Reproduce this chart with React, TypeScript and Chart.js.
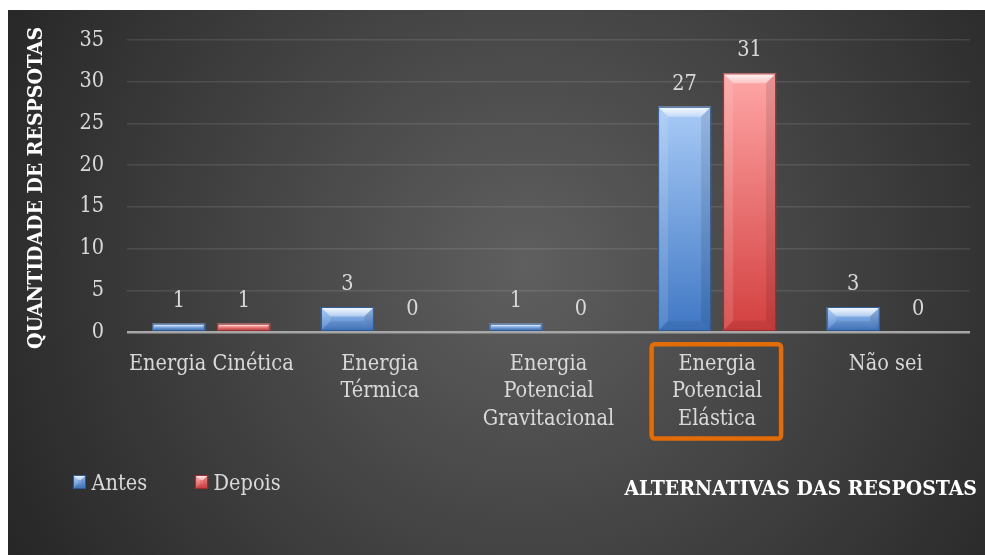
import React, { useEffect, useRef } from 'react';
import { Chart, registerables } from 'chart.js';

Chart.register(...registerables);

// ---- data ----
const categories: string[][] = [
  ['Energia Cinética'],
  ['Energia', 'Térmica'],
  ['Energia', 'Potencial', 'Gravitacional'],
  ['Energia', 'Potencial', 'Elástica'],
  ['Não sei'],
];
const antesValues = [1, 3, 1, 27, 3];
const depoisValues = [1, 0, 0, 31, 0];
const seriesNames = ['Antes', 'Depois'];
const yAxisMax = 35;
const yAxisStep = 5;
const yAxisTitle = 'QUANTIDADE DE RESPSOTAS';
const xAxisTitle = 'ALTERNATIVAS DAS RESPOSTAS';
const highlightedCategory = 3;

// ---- style ----
const FONT = "'DejaVu Serif Condensed', 'DejaVu Serif', serif";
const TEXT_SIZE = 21.5;
const TITLE_SIZE = 21;
const TEXT_COLOR = '#d9d9d9';
const W = 977;
const H = 545;

type Palette = { top: string; bottom: string; border: string };
const palettes: Palette[] = [
  { top: '#a9cbf7', bottom: '#3f77c4', border: '#2c5a97' },
  { top: '#ffa6a6', bottom: '#d33f3f', border: '#9c2d2d' },
];

function barFill(c: any, p: Palette) {
  const chart = c.chart;
  if (!chart.chartArea || c.type !== 'data') return p.bottom;
  const ys = chart.scales.y;
  const top = ys.getPixelForValue(c.raw);
  const base = ys.getPixelForValue(0);
  if (base - top < 1) return p.bottom;
  const g = chart.ctx.createLinearGradient(0, top, 0, base);
  g.addColorStop(0, p.top);
  g.addColorStop(1, p.bottom);
  return g;
}

function poly(ctx: CanvasRenderingContext2D, pts: number[][], fill: any) {
  ctx.beginPath();
  ctx.moveTo(pts[0][0], pts[0][1]);
  for (let i = 1; i < pts.length; i++) ctx.lineTo(pts[i][0], pts[i][1]);
  ctx.closePath();
  ctx.fillStyle = fill;
  ctx.fill();
}

function bevelBox(ctx: CanvasRenderingContext2D, x0: number, y0: number, x1: number, y1: number, bMax: number, border: string) {
  const h = y1 - y0;
  const w = x1 - x0;
  const b = Math.min(bMax, h / 2.5, w / 2);
  const g = ctx.createLinearGradient(0, y0, 0, y0 + b);
  g.addColorStop(0, 'rgba(255,255,255,0.9)');
  g.addColorStop(1, 'rgba(255,255,255,0.35)');
  poly(ctx, [[x0, y0], [x1, y0], [x1 - b, y0 + b], [x0 + b, y0 + b]], g);
  poly(ctx, [[x0, y0], [x0 + b, y0 + b], [x0 + b, y1 - b], [x0, y1]], 'rgba(255,255,255,0.12)');
  poly(ctx, [[x1, y0], [x1 - b, y0 + b], [x1 - b, y1 - b], [x1, y1]], 'rgba(0,0,0,0.10)');
  poly(ctx, [[x0, y1], [x0 + b, y1 - b], [x1 - b, y1 - b], [x1, y1]], 'rgba(0,0,0,0.07)');
  ctx.strokeStyle = border;
  ctx.lineWidth = 1;
  ctx.strokeRect(x0 + 0.5, y0 + 0.5, w - 1, h - 1);
}

const decorPlugin = {
  id: 'decor',
  afterDatasetsDraw(chart: any) {
    const ctx: CanvasRenderingContext2D = chart.ctx;
    ctx.save();
    chart.data.datasets.forEach((ds: any, di: number) => {
      const meta = chart.getDatasetMeta(di);
      meta.data.forEach((el: any, i: number) => {
        const { x, y, base, width } = el.getProps(['x', 'y', 'base', 'width'], true);
        const h = base - y;
        if (h > 0.5) {
          bevelBox(ctx, x - width / 2, y, x + width / 2, base, 10, palettes[di].border);
        }
        ctx.fillStyle = TEXT_COLOR;
        ctx.font = `${TEXT_SIZE}px ${FONT}`;
        ctx.textAlign = 'center';
        ctx.textBaseline = 'alphabetic';
        ctx.fillText(String(ds.data[i]), x, y - 17);
      });
    });
    ctx.restore();
  },
  afterDraw(chart: any) {
    const ctx: CanvasRenderingContext2D = chart.ctx;
    const area = chart.chartArea;
    ctx.save();
    // y axis title
    ctx.fillStyle = '#ffffff';
    ctx.font = `bold ${TITLE_SIZE}px ${FONT}`;
    ctx.textAlign = 'center';
    ctx.textBaseline = 'alphabetic';
    ctx.translate(34, (area.top + area.bottom) / 2 + 2);
    ctx.rotate(-Math.PI / 2);
    ctx.fillText(yAxisTitle, 0, 0);
    ctx.restore();

    ctx.save();
    // x axis title
    ctx.fillStyle = '#ffffff';
    ctx.font = `bold ${TITLE_SIZE}px ${FONT}`;
    ctx.textAlign = 'right';
    ctx.textBaseline = 'alphabetic';
    ctx.fillText(xAxisTitle, W - 8, 485);

    // legend
    ctx.font = `${TEXT_SIZE}px ${FONT}`;
    ctx.textAlign = 'left';
    let lx = 65;
    chart.data.datasets.forEach((ds: any, di: number) => {
      const p = palettes[di];
      const g = ctx.createLinearGradient(0, 465, 0, 479);
      g.addColorStop(0, p.top);
      g.addColorStop(1, p.bottom);
      ctx.fillStyle = g;
      ctx.fillRect(lx, 465, 13, 14);
      bevelBox(ctx, lx, 465, lx + 13, 479, 5, p.border);
      ctx.fillStyle = TEXT_COLOR;
      ctx.fillText(ds.label, lx + 18.5, 480);
      lx += 18.5 + ctx.measureText(ds.label).width + 48;
    });

    // highlight box around a category label
    const xs = chart.scales.x;
    const cx = xs.getPixelForTick(highlightedCategory);
    ctx.strokeStyle = '#e36c0a';
    ctx.lineWidth = 4.5;
    ctx.beginPath();
    (ctx as any).roundRect(cx - 65.5, area.bottom + 12.2, 129.5, 94.3, 3);
    ctx.stroke();
    ctx.restore();
  },
};

export default function App() {
  const ref = useRef<HTMLCanvasElement | null>(null);

  useEffect(() => {
    if (!ref.current) return;
    const chart = new Chart(ref.current, {
      type: 'bar',
      data: {
        labels: categories,
        datasets: [
          {
            label: seriesNames[0],
            data: antesValues,
            backgroundColor: (c: any) => barFill(c, palettes[0]),
            borderWidth: 0,
          },
          {
            label: seriesNames[1],
            data: depoisValues,
            backgroundColor: (c: any) => barFill(c, palettes[1]),
            borderWidth: 0,
          },
        ],
      },
      options: {
        animation: false,
        responsive: false,
        layout: { padding: { top: 30, right: 15, bottom: 0, left: 0 } },
        datasets: { bar: { categoryPercentage: 0.771, barPercentage: 0.815 } },
        plugins: { legend: { display: false }, tooltip: { enabled: false } },
        scales: {
          x: {
            grid: { display: false, drawTicks: false },
            border: { display: false },
            ticks: {
              color: TEXT_COLOR,
              font: { family: FONT, size: TEXT_SIZE, lineHeight: 1.28 },
              padding: 18.5,
              maxRotation: 0,
              autoSkip: false,
            },
            afterFit: (s: any) => {
              s.height = H - 322;
            },
          },
          y: {
            min: 0,
            max: yAxisMax,
            ticks: {
              stepSize: yAxisStep,
              color: TEXT_COLOR,
              font: { family: FONT, size: TEXT_SIZE },
              padding: 23,
            },
            grid: {
              drawTicks: false,
              color: (c: any) => (c.tick && c.tick.value === 0 ? '#a6a6a6' : 'rgba(255,255,255,0.10)'),
              lineWidth: (c: any) => (c.tick && c.tick.value === 0 ? 2.5 : 1.5),
            },
            border: { display: false },
            afterFit: (s: any) => {
              s.width = 119;
              s.paddingTop = 10;
              s.paddingBottom = 10;
            },
          },
        },
      } as any,
      plugins: [decorPlugin],
    });
    return () => chart.destroy();
  }, []);

  return (
    <div
      style={{
        position: 'absolute',
        left: 8,
        top: 10,
        width: W,
        height: H,
        background: 'radial-gradient(circle farthest-corner at 53% 47%, #5f5f5f 0%, #262626 100%)',
      }}
    >
      <canvas ref={ref} width={W} height={H} style={{ display: 'block', width: W, height: H }} />
    </div>
  );
}
